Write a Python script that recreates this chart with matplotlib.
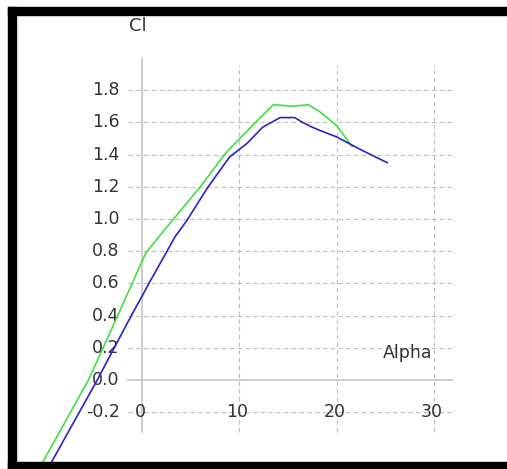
import matplotlib
matplotlib.use("Agg")
import matplotlib.pyplot as plt
from matplotlib.patches import Rectangle

# Cl vs Alpha, two polars
alpha_green = [-10.2, -5.5, -2.5, 0.4, 3.1, 6.0, 8.6, 11.5, 13.5, 15.5, 17.1, 18.3, 20.0, 21.6]
cl_green = [-0.51, 0.0, 0.40, 0.79, 0.99, 1.20, 1.41, 1.59, 1.71, 1.70, 1.71, 1.665, 1.58, 1.45]

alpha_blue = [-9.3, -4.6, -1.1, 0.0, 0.8, 2.2, 3.4, 4.6, 6.8, 9.0, 10.8, 12.4, 14.2, 15.7,
              16.5, 17.5, 18.3, 20.0, 22.5, 25.2]
cl_blue = [-0.51, 0.0, 0.40, 0.52, 0.61, 0.76, 0.89, 0.99, 1.20, 1.385, 1.47, 1.57, 1.63, 1.63,
           1.60, 1.57, 1.55, 1.51, 1.43, 1.35]

x_ticks = [0, 10, 20, 30]
y_ticks = [-0.2, 0.0, 0.2, 0.4, 0.6, 0.8, 1.0, 1.2, 1.4, 1.6, 1.8]

W, H = 507, 469
fig = plt.figure(figsize=(W / 100, H / 100), dpi=100)
ax = fig.add_axes([0, 0, 1, 1])
# pixel mapping of the original plot: x0=142px, 9.73 px/deg ; y0=380px, 161 px/unit
x0, sx = 142, 9.73
y0, sy = 380, 161
ax.set_xlim(-x0 / sx, (W - x0) / sx)
ax.set_ylim((y0 - H) / sy, y0 / sy)
ax.axis("off")

grid_col = "#bdbdbd"
txt_col = "#333333"
gx0, gx1 = -1.44, 31.9
gy0, gy1 = -0.323, 1.957

for v in y_ticks:
    if v == 0.0:
        ax.plot([gx0, gx1], [v, v], color="#c8c8c8", lw=1.3, zorder=1)
    else:
        ax.plot([gx0, gx1], [v, v], color=grid_col, lw=0.8, ls=(0, (4, 3)), zorder=1)
    ax.text(-2.3, v, f"{v:.1f}", ha="right", va="center", fontsize=12.5, color=txt_col)

for v in x_ticks:
    if v == 0:
        ax.plot([v, v], [gy0, 2.0], color="#c8c8c8", lw=1.3, zorder=1)
    else:
        ax.plot([v, v], [gy0, gy1], color=grid_col, lw=0.8, ls=(0, (4, 3)), zorder=1)
    ax.text(v - 0.2, -0.2, str(v), ha="center", va="center", fontsize=12.5, color=txt_col)

ax.text(-0.4, 2.2, "Cl", ha="center", va="center", fontsize=13, color=txt_col)
ax.text(29.8, 0.17, "Alpha", ha="right", va="center", fontsize=12.5, color=txt_col)

ax.plot(alpha_green, cl_green, color="#44dd44", lw=1.2, zorder=3)
ax.plot(alpha_blue, cl_blue, color="#2a22cc", lw=1.2, zorder=4)

# black frame around the screenshot
for (x, y, w, h) in [(8, 7, W - 8, 8), (8, 7, 8, H - 7), (8, H - 7, W - 8, 7)]:
    fig.patches.append(Rectangle((x / W, 1 - (y + h) / H), w / W, h / H,
                                 transform=fig.transFigure, color="black", zorder=10))

fig.savefig("out.png", dpi=100)
